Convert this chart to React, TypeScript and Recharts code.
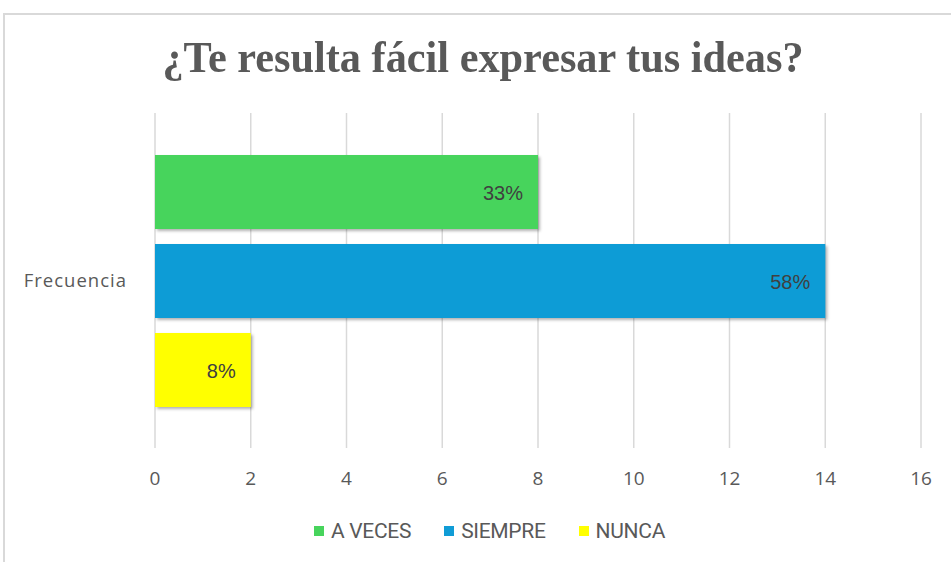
import { BarChart, Bar, XAxis, YAxis, CartesianGrid, Legend, LabelList } from 'recharts';

const categories = ['Frecuencia'];
const seriesNames = ['A VECES', 'SIEMPRE', 'NUNCA'];
const seriesValues = [8, 14, 2];
const seriesLabels = ['33%', '58%', '8%'];
const seriesColors = ['#47d45c', '#109cd6', '#ffff00'];
const xTicks = [0, 2, 4, 6, 8, 10, 12, 14, 16];

const data = categories.map((name) => {
  const row: Record<string, string | number> = { name };
  seriesNames.forEach((s, i) => {
    row[s] = seriesValues[i];
  });
  return row;
});

function makeLabel(text: string) {
  return (props: any) => {
    const { x, y, width, height } = props;
    return (
      <text
        x={x + width - 15}
        y={y + height / 2 + 1}
        textAnchor="end"
        dominantBaseline="central"
        fontFamily="'Liberation Sans', Arial, sans-serif"
        fontSize={20}
        fill="#404040"
      >
        {text}
      </text>
    );
  };
}

function LegendContent() {
  return (
    <div style={{ display: 'flex', justifyContent: 'center', alignItems: 'center', gap: 33, paddingLeft: 58, paddingTop: 11 }}>
      {seriesNames.map((s, i) => (
        <div key={s} style={{ display: 'flex', alignItems: 'center' }}>
          <span style={{ width: 10, height: 10, background: seriesColors[i], marginRight: 7, display: 'inline-block' }} />
          <span style={{ fontFamily: 'Roboto, sans-serif', fontSize: 21, letterSpacing: -0.3, color: '#595959' }}>{s}</span>
        </div>
      ))}
    </div>
  );
}

export default function App() {
  return (
    <div style={{ position: 'absolute', left: 0, top: 0, width: 951, height: 562, background: '#fff', overflow: 'hidden' }}>
      <div style={{ position: 'absolute', left: 3, top: 13, width: 1000, height: 600, border: '2px solid #d9d9d9' }} />
      <div
        style={{
          position: 'absolute', left: 0, top: 31, width: 966, textAlign: 'center',
          fontFamily: "'Liberation Serif', 'Times New Roman', serif", fontWeight: 'bold', fontSize: 45, color: '#595959',
          transform: 'scaleX(0.94)', transformOrigin: '483px 0',
        }}
      >
        ¿Te resulta fácil expresar tus ideas?
      </div>
      <div style={{ position: 'absolute', left: 0, top: 0 }}>
        <BarChart
          width={951}
          height={562}
          data={data}
          layout="vertical"
          margin={{ top: 113, right: 30, left: 0, bottom: 10 }}
          barCategoryGap={42}
          barGap={15}
        >
          <defs>
            <filter id="shadow" x="-5%" y="-10%" width="115%" height="130%">
              <feDropShadow dx="2" dy="2" stdDeviation="1.5" floodColor="#000" floodOpacity="0.3" />
            </filter>
          </defs>
          <CartesianGrid horizontal={false} vertical stroke="#d9d9d9" strokeWidth={1.5} />
          <XAxis
            type="number"
            domain={[0, 16]}
            ticks={xTicks}
            axisLine={false}
            tickLine={false}
            tickSize={5}
            tickMargin={19}
            height={60}
            tick={{ fill: '#595959', fontSize: 19, fontFamily: "'Open Sans', sans-serif" }}
          />
          <YAxis
            type="category"
            dataKey="name"
            width={155}
            axisLine={false}
            tickLine={false}
            tickSize={8}
            tickMargin={20}
            tick={{ fill: '#595959', fontSize: 18.5, fontFamily: "'Open Sans', sans-serif", letterSpacing: 1 }}
          />
          <Legend verticalAlign="bottom" height={44} content={<LegendContent />} />
          {seriesNames.map((s, i) => (
            <Bar key={s} dataKey={s} fill={seriesColors[i]} isAnimationActive={false} style={{ filter: 'url(#shadow)' }}>
              <LabelList dataKey={s} content={makeLabel(seriesLabels[i])} />
            </Bar>
          ))}
        </BarChart>
      </div>
    </div>
  );
}
